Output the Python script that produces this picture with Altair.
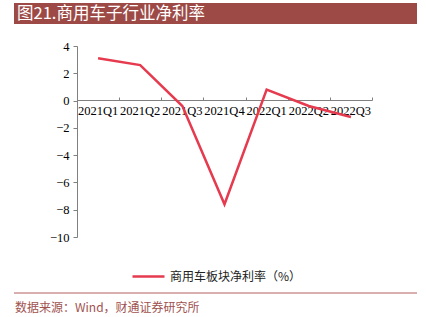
import altair as alt
import pandas as pd

categories = ["2021Q1", "2021Q2", "2021Q3", "2021Q4", "2022Q1", "2022Q2", "2022Q3"]
values = [3.1, 2.6, -0.4, -7.6, 0.8, -0.4, -1.2]
series_name = "商用车板块净利率（%）"
title_text = "图21.商用车子行业净利率"
source_text = "数据来源：Wind，财通证券研究所"
y_ticks = [4, 2, 0, -2, -4, -6, -8, -10]

RED = "#E63A4E"
BAR = "#9D4A47"
AXIS = "#808080"
CJK = "Noto Sans CJK SC"
SERIF = "Liberation Serif"

W, H = 295, 191
LEFT, TOP = 77, 46

df = pd.DataFrame({"q": categories, "v": values, "s": [series_name] * len(categories)})

xscale = alt.Scale(domain=categories, paddingInner=0, paddingOuter=0)
yscale = alt.Scale(domain=[-10, 4], nice=False, zero=False)

line = alt.Chart(df).mark_line(strokeWidth=2.5).encode(
    x=alt.X("q:N", scale=xscale, sort=categories,
            axis=alt.Axis(orient="bottom", offset=-137, title=None, labelAngle=0,
                          ticks=False, domain=True, domainColor=AXIS,
                          labelFont=SERIF, labelFontSize=12.5, labelColor="#000000",
                          labelPadding=4, labelLimit=60)),
    y=alt.Y("v:Q", scale=yscale,
            axis=alt.Axis(values=y_ticks, title=None, grid=False, domainColor=AXIS,
                          tickColor=AXIS, tickSize=4, labelFont=SERIF, labelFontSize=12.5,
                          labelColor="#000000", labelPadding=4)),
    color=alt.Color("s:N", scale=alt.Scale(domain=[series_name], range=[RED]),
                    legend=alt.Legend(orient="none", legendX=54, legendY=213, title=None,
                                      symbolType="stroke", symbolSize=1024,
                                      symbolStrokeWidth=2.5, labelFont=CJK,
                                      labelFontSize=12, labelColor="#222222")),
)

xticks = alt.Chart(df).mark_point(opacity=0).encode(
    x=alt.X("q:N", scale=xscale, sort=categories,
            axis=alt.Axis(orient="top", offset=-54, title=None, labels=False,
                          domain=False, ticks=True, tickBand="extent", tickSize=3,
                          tickColor=AXIS)),
    y=alt.value(0),
)

one = pd.DataFrame({"t": [title_text], "src": [source_text]})

title_bar = alt.Chart(one).mark_rect(color=BAR).encode(
    x=alt.value(14 - LEFT), x2=alt.value(417 - LEFT),
    y=alt.value(3 - TOP), y2=alt.value(24 - TOP),
)
title_txt = alt.Chart(one).mark_text(align="left", baseline="middle", font=CJK,
                                     fontSize=16.5, color="#FFFFFF").encode(
    x=alt.value(17 - LEFT), y=alt.value(14 - TOP), text="t:N",
)
bottom_rule = alt.Chart(one).mark_rule(color="#B3605C", strokeWidth=1).encode(
    x=alt.value(14 - LEFT), x2=alt.value(417 - LEFT), y=alt.value(293 - TOP),
)
source = alt.Chart(one).mark_text(align="left", baseline="middle", font=CJK,
                                  fontSize=12, color="#A0524F").encode(
    x=alt.value(15 - LEFT), y=alt.value(308 - TOP), text="src:N",
)

chart = alt.layer(title_bar, title_txt, bottom_rule, source, xticks, line).resolve_axis(
    x="independent"
).properties(
    width=W, height=H,
    autosize=alt.AutoSizeParams(type="none"),
    padding={"left": LEFT, "top": TOP, "right": 426 - LEFT - W, "bottom": 317 - TOP - H},
    background="#FFFFFF",
).configure_view(stroke=None)

chart.save("out.html", embed_options={"renderer": "svg", "actions": False})
